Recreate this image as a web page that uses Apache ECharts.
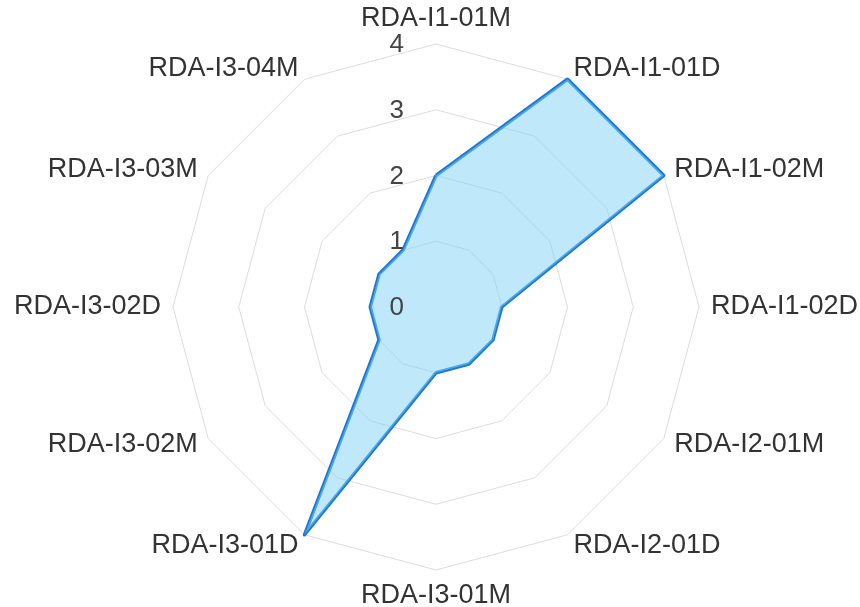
<!DOCTYPE html>
<html><head><meta charset="utf-8">
<script src="https://cdn.jsdelivr.net/npm/echarts@6/dist/echarts.min.js"></script>
<style>html,body{margin:0;padding:0;background:#fff}#c{width:860px;height:607px}</style>
</head><body><div id="c"></div>
<script>
// clockwise order starting at top
const categories = ['RDA-I1-01M','RDA-I1-01D','RDA-I1-02M','RDA-I1-02D','RDA-I2-01M','RDA-I2-01D','RDA-I3-01M','RDA-I3-01D','RDA-I3-02M','RDA-I3-02D','RDA-I3-03M','RDA-I3-04M'];
const values = [2,4,4,1,1,1,1,4,1,1,1,1];
const maxValue = 4;
const ringLabels = ['0','1','2','3','4'];

// ECharts lays indicators counterclockwise; reorder to get clockwise
const order = [0].concat(categories.map((_, i) => i).slice(1).reverse());
const indicators = order.map(i => ({ name: categories[i], max: maxValue, min: 0 }));
const dataOrdered = order.map(i => values[i]);

const FONT = 'Liberation Sans, Arial, Helvetica, sans-serif';
const chart = echarts.init(document.getElementById('c'));
chart.setOption({
  animation: false,
  radar: {
    center: [436, 307],
    radius: 263,
    startAngle: 90,
    splitNumber: 4,
    shape: 'polygon',
    indicator: indicators,
    axisName: { color: '#333', fontSize: 27, fontFamily: FONT },
    nameGap: 12,
    splitLine: { lineStyle: { color: '#dddddd', width: 1 } },
    splitArea: { show: false },
    axisLine: { show: false },
    axisTick: { show: false },
    axisLabel: { show: false }
  },
  series: [{
    type: 'radar',
    symbol: 'none',
    lineStyle: { color: '#1c78d4', width: 3.5 },
    areaStyle: { color: '#7fd3f7', opacity: 0.5 },
    data: [{
      value: dataOrdered,
      lineStyle: { color: '#1c78d4', width: 3.5 },
      areaStyle: { color: '#7fd3f7', opacity: 0.5 }
    }]
  }]
});
// ring labels via the radar's own coordinate conversion
const rad = chart.getModel().getComponent('radar').coordinateSystem;
const g = ringLabels.map((t, k) => {
  const p = rad.dataToPoint(k, 0);
  return { type: 'text', x: p[0] - 32, y: p[1] + 1, style: { text: t, fill: '#444', fontSize: 26, fontFamily: FONT, align: 'right', verticalAlign: 'middle' }, z: 100 };
});
chart.setOption({ graphic: g });
</script></body></html>
